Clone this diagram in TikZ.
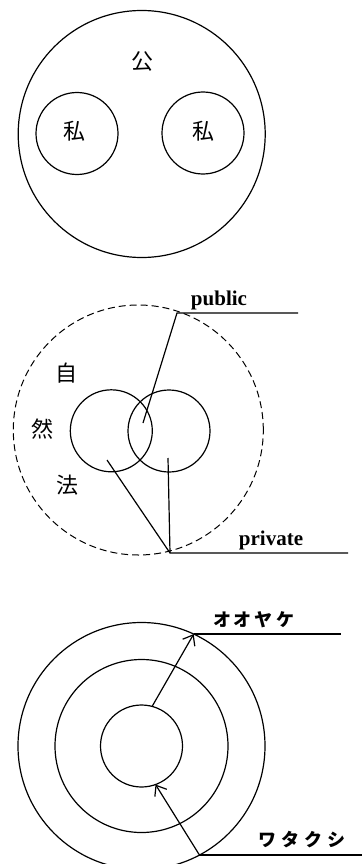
\documentclass[tikz,border=0pt]{standalone}
\usepackage{fontspec}
\setmainfont{Liberation Serif}
\newfontfamily\jp{Noto Sans CJK JP}
\usetikzlibrary{arrows.meta}
\begin{document}
\begin{tikzpicture}[x=1pt,y=-1pt,
  ln/.style={line width=1.2pt},
  ring/.style={circle, draw, line width=1.2pt, inner sep=0pt, outer sep=0pt},
  dring/.style={ring, line width=1pt, dash pattern=on 7pt off 4pt},
  kanji/.style={font=\jp\fontsize{22}{22}\selectfont, inner sep=0pt},
  kana/.style={font=\jp\bfseries\fontsize{18}{18}\selectfont, inner sep=0pt},
  eng/.style={font=\bfseries\fontsize{21}{21}\selectfont, inner sep=0pt, anchor=base},
  arr/.style={ln, -{Straight Barb[length=9pt,width=14pt,line width=1.2pt]}}]
\useasboundingbox (0,0) rectangle (363,864);
% ---------- diagram 1
\node[ring, minimum size=247pt] (o1) at (141.7,134) {};
\node[ring, minimum size=82pt] (l1) at (77,133.5) {};
\node[ring, minimum size=82pt] (r1) at (203,133) {};
\node[kanji] (ko) at (142,62) {公};
\node[kanji] (w1) at (74,131) {私};
\node[kanji] (w2) at (203,131) {私};
% ---------- diagram 2
\node[dring, minimum size=250pt] (d2) at (138.3,430) {};
\node[ring, minimum size=82pt] (l2) at (111.3,430.8) {};
\node[ring, minimum size=82pt] (r2) at (169,431) {};
\node[kanji] (ji) at (66,373) {自};
\node[kanji] (zen) at (42,429) {然};
\node[kanji] (ho) at (67,485) {法};
\node[eng] (pub) at (219,305) {public};
\node[eng] (priv) at (271,545) {private};
\coordinate (pp) at (177,313);
\coordinate (pe) at (298,313);
\coordinate (pc) at (143,423);
\coordinate (qp) at (170,553);
\coordinate (qe) at (348,553);
\coordinate (qa) at (107,460);
\coordinate (qb) at (168,458);
\draw[ln] (pe) -- (pp) -- (pc);
\draw[ln] (qe) -- (qp) -- (qa);
\draw[ln] (qp) -- (qb);
% ---------- diagram 3
\node[ring, minimum size=247pt] (o3) at (141.5,746) {};
\node[ring, minimum size=173pt] (m3) at (141.5,746) {};
\node[ring, minimum size=82pt] (i3) at (141.5,746) {};
\node[kana] (oyake) at (253.5,620) {オ\hspace{3pt}オ\hspace{3pt}ヤ\hspace{3pt}ケ};
\node[kana] (wata) at (302,840) {ワ\hspace{5pt}タ\hspace{5pt}ク\hspace{5pt}シ};
\coordinate (oe) at (341,634);
\coordinate (we) at (362,855);
\draw[arr] (i3.75) -- (o3.65);
\draw[ln] (o3.65) -- (o3.65 -| oe);
\draw[arr] (o3.-62) -- (i3.-70);
\draw[ln] (o3.-62) -- (o3.-62 -| we);
\end{tikzpicture}
\end{document}
